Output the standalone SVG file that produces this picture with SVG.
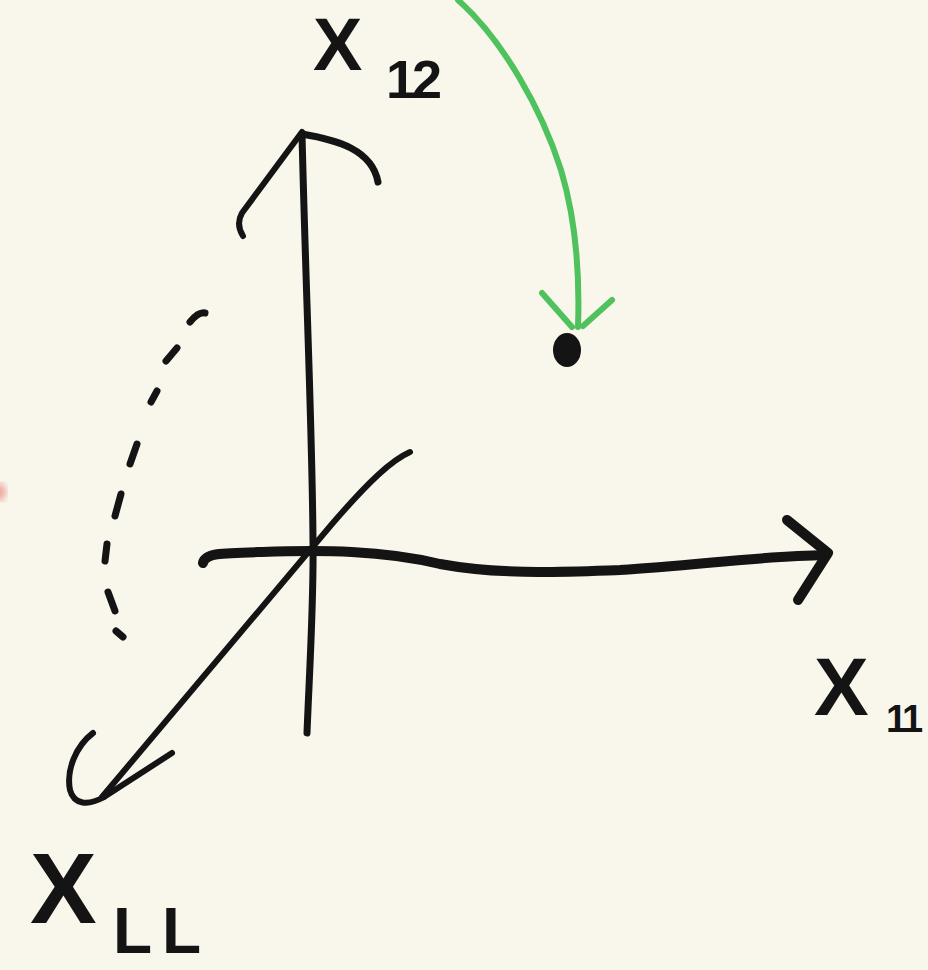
<svg xmlns="http://www.w3.org/2000/svg" width="928" height="970" viewBox="0 0 928 970">
<defs>
<style>
.ink{fill:none;stroke:#141414;stroke-linecap:round;stroke-linejoin:round}
.green{fill:none;stroke:#4fc25d;stroke-width:6;stroke-linecap:round;stroke-linejoin:round}
.lbl{font-family:"Liberation Sans","DejaVu Sans",sans-serif;font-weight:bold;fill:#141414}
</style>
<filter id="blur"><feGaussianBlur stdDeviation="3"/></filter>
</defs>
<rect width="928" height="970" fill="#f9f6ec"/>
<ellipse cx="0" cy="492" rx="6" ry="9" fill="#e04848" opacity="0.45" filter="url(#blur)"/>
<g id="axis-x12">
<path class="ink" stroke-width="7" d="M307,733 C309,680 314,600 313,540 C312,420 306,300 302,134"/>
<path class="ink" stroke-width="6" d="M243,236 C238,228 238,220 242,213 L302,132"/>
<path class="ink" stroke-width="7" d="M302,134 C338,140 372,150 378,182"/>
</g>
<g id="axis-x11">
<path class="ink" stroke-width="10" d="M203,563 C205,553 222,553 262,552 C322,550 382,550 440,564 C500,575 560,572 620,570 C700,565 760,556 826,555"/>
<path class="ink" stroke-width="10" d="M787,520 L828,553 L798,600"/>
</g>
<g id="axis-xll">
<path class="ink" stroke-width="6" d="M410,452 C392,460 370,480 332,524 L102,797"/>
<path class="ink" stroke-width="6" d="M172,753 L104,797"/>
<path class="ink" stroke-width="6" d="M93,733 C76,746 66,770 70,790 C74,805 88,806 104,797"/>
</g>
<g id="rotation-arc">
<path class="ink" stroke-width="7" d="M190,322 C195,316 200,312 205,313"/>
<path class="ink" stroke-width="7" d="M166,361 L177,348"/>
<path class="ink" stroke-width="7" d="M151,402 L157,391"/>
<path class="ink" stroke-width="7" d="M130,464 L137,444"/>
<path class="ink" stroke-width="7" d="M115,516 L121,494"/>
<path class="ink" stroke-width="7" d="M105,561 L107,544"/>
<path class="ink" stroke-width="7" d="M108,592 L115,611"/>
<path class="ink" stroke-width="7" d="M116,631 L123,637"/>
</g>
<g id="connectors">
<path class="green" d="M458,0 C503,40 542,110 561,170 C576,220 580,270 578,327"/>
<path class="green" d="M542,293 L572,327 M612,300 L583,326"/>
</g>
<g id="point">
<ellipse cx="567" cy="350" rx="14" ry="17" fill="#141414"/>
</g>
<g id="labels">
<text class="lbl" x="313" y="70" font-size="74">X<tspan x="386" y="98" font-size="54" letter-spacing="-4">12</tspan></text>
<text class="lbl" x="814" y="715" font-size="82">X<tspan x="886" y="732" font-size="38" letter-spacing="-3">11</tspan></text>
<text class="lbl" x="30" y="923" font-size="100">X<tspan x="113" y="953" font-size="64" letter-spacing="10">LL</tspan></text>
</g>
</svg>
